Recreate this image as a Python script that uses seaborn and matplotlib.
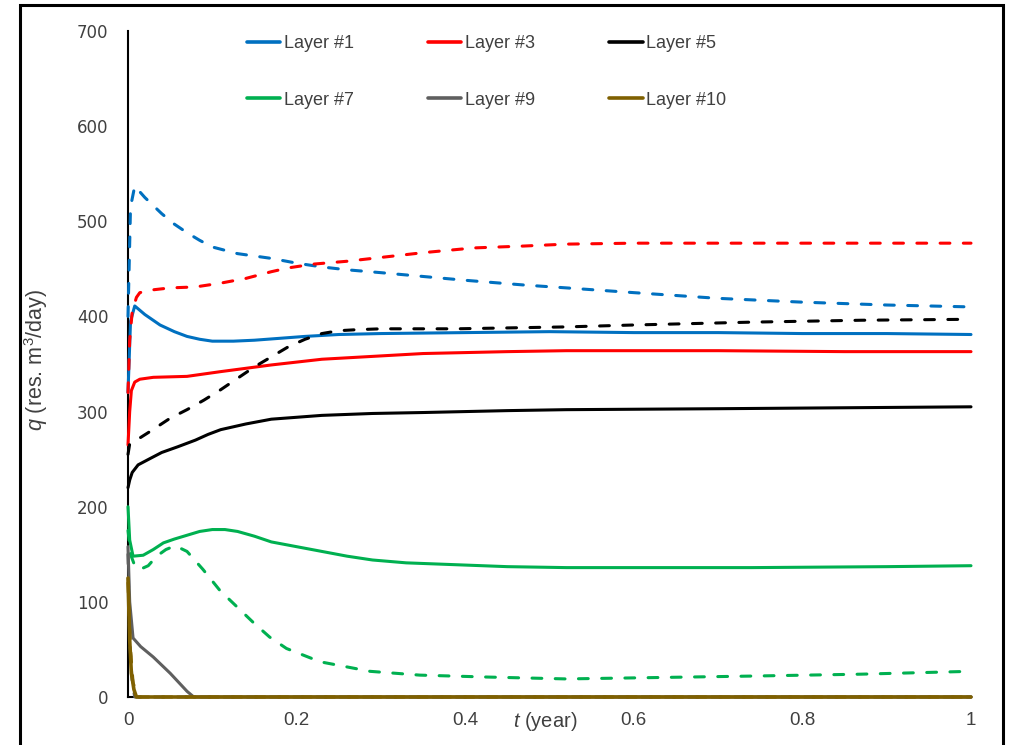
import numpy as np
import pandas as pd
import matplotlib
matplotlib.use("Agg")
import matplotlib.pyplot as plt
from matplotlib import font_manager
from matplotlib.colors import to_hex
from matplotlib.lines import Line2D
from matplotlib.patches import Rectangle
import seaborn as sns

# ---- data: flow rate q (res. m3/day) vs time t (year) per layer ----
# solid = case A, dashed = case B
t1_a = [0, 0.003, 0.008, 0.02, 0.038, 0.055, 0.07, 0.085, 0.1, 0.125, 0.15, 0.18, 0.21, 0.25, 0.3, 0.4, 0.5, 0.6, 0.7, 0.8, 0.9, 1.0]
q1_a = [320, 395, 411, 402, 391, 384, 379, 376, 374, 374, 375, 377, 379, 381, 382, 383, 384, 383, 383, 382, 382, 381]
t1_b = [0, 0.003, 0.008, 0.012, 0.02, 0.04, 0.055, 0.07, 0.085, 0.1, 0.13, 0.17, 0.2, 0.23, 0.26, 0.3, 0.35, 0.4, 0.47, 0.52, 0.6, 0.7, 0.8, 0.9, 1.0]
q1_b = [400, 515, 537, 533, 525, 508, 497, 488, 480, 473, 466, 461, 456, 452, 449, 446, 442, 438, 433, 430, 425, 419, 415, 412, 410]

t3_a = [0, 0.002, 0.004, 0.008, 0.014, 0.03, 0.07, 0.11, 0.17, 0.23, 0.29, 0.35, 0.45, 0.52, 0.7, 0.85, 1.0]
q3_a = [265, 300, 322, 331, 334, 336, 337, 342, 349, 355, 358, 361, 363, 364, 364, 363, 363]
t3_b = [0, 0.002, 0.005, 0.01, 0.014, 0.03, 0.05, 0.08, 0.11, 0.14, 0.17, 0.19, 0.22, 0.26, 0.29, 0.35, 0.41, 0.47, 0.52, 0.6, 0.8, 1.0]
q3_b = [320, 375, 405, 420, 425, 428, 430, 431, 435, 440, 447, 451, 455, 458, 461, 467, 472, 474, 476, 477, 477, 477]

t5_a = [0, 0.002, 0.005, 0.012, 0.027, 0.04, 0.059, 0.08, 0.095, 0.11, 0.125, 0.14, 0.17, 0.2, 0.23, 0.26, 0.29, 0.35, 0.45, 0.52, 0.7, 0.85, 1.0]
q5_a = [220, 228, 236, 244, 251, 257, 263, 270, 276, 281, 284, 287, 292, 294, 296, 297, 298, 299, 301, 302, 303, 304, 305]
t5_b = [0, 0.002, 0.01, 0.026, 0.05, 0.07, 0.09, 0.11, 0.15, 0.19, 0.21, 0.23, 0.25, 0.27, 0.3, 0.39, 0.52, 0.6, 0.74, 0.87, 1.0]
q5_b = [255, 266, 270, 279, 293, 302, 312, 323, 347, 368, 376, 382, 385, 386, 387, 387, 389, 391, 394, 396, 397]

t7_a = [0, 0.002, 0.006, 0.018, 0.03, 0.042, 0.055, 0.07, 0.085, 0.1, 0.115, 0.13, 0.15, 0.17, 0.2, 0.23, 0.26, 0.29, 0.33, 0.39, 0.45, 0.52, 0.74, 0.9, 1.0]
q7_a = [200, 165, 148, 149, 155, 162, 166, 170, 174, 176, 176, 174, 169, 163, 158, 153, 148, 144, 141, 139, 137, 136, 136, 137, 138]
t7_b = [0, 0.003, 0.008, 0.014, 0.024, 0.034, 0.045, 0.056, 0.07, 0.089, 0.109, 0.129, 0.149, 0.168, 0.188, 0.228, 0.287, 0.346, 0.425, 0.52, 0.74, 0.87, 1.0]
q7_b = [175, 150, 138, 134, 138, 148, 155, 159, 153, 134, 112, 95, 78, 63, 51, 37, 27, 23, 21, 19, 22, 24, 27]

t9_a = [0, 0.002, 0.006, 0.015, 0.03, 0.05, 0.07, 0.078, 0.2, 0.5, 1.0]
q9_a = [158, 100, 62, 53, 42, 25, 6, 0, 0, 0, 0]
t9_b = [0, 0.002, 0.005, 0.008, 1.0]
q9_b = [150, 60, 15, 0, 0]

t10_a = [0, 0.002, 0.004, 0.007, 0.01, 1.0]
q10_a = [125, 60, 25, 8, 0, 0]
t10_b = [0, 0.003, 0.006, 0.012, 1.0]
q10_b = [120, 50, 15, 0, 0]

layers = ["Layer #1", "Layer #3", "Layer #5", "Layer #7", "Layer #9", "Layer #10"]
colors = ["#0070C0", "#FF0000", "#000000", "#00B050", "#5F5F5F", "#7F6000"]
x_ticks = [0, 0.2, 0.4, 0.6, 0.8, 1]
x_tick_labels = ["0", "0.2", "0.4", "0.6", "0.8", "1"]
y_ticks = [0, 100, 200, 300, 400, 500, 600, 700]

series = {
    "Layer #1": ((t1_a, q1_a), (t1_b, q1_b)),
    "Layer #3": ((t3_a, q3_a), (t3_b, q3_b)),
    "Layer #5": ((t5_a, q5_a), (t5_b, q5_b)),
    "Layer #7": ((t7_a, q7_a), (t7_b, q7_b)),
    "Layer #9": ((t9_a, q9_a), (t9_b, q9_b)),
    "Layer #10": ((t10_a, q10_a), (t10_b, q10_b)),
}

rows = []
for name in layers:
    for case, (tt, qq) in zip(["A", "B"], series[name]):
        for t, q in zip(tt, qq):
            rows.append({"t": t, "q": q, "layer": name, "case": case})
df = pd.DataFrame(rows)

# ---- style ----
sns.set_style("white")
available = {f.name for f in font_manager.fontManager.ttflist}
narrow = "Liberation Sans Narrow" if "Liberation Sans Narrow" in available else "Liberation Sans"
plt.rcParams["font.family"] = [narrow, "DejaVu Sans"]
plt.rcParams["mathtext.fontset"] = "custom"
plt.rcParams["mathtext.it"] = f"{narrow}:italic"
plt.rcParams["mathtext.rm"] = narrow

fig = plt.figure(figsize=(10.10, 7.45), dpi=100)
ax = fig.add_axes([128 / 1010, 1 - 697 / 745, (971 - 128) / 1010, (697 - 31) / 745])

sns.lineplot(
    data=df, x="t", y="q", hue="layer", style="case",
    hue_order=layers, palette=colors, style_order=["A", "B"],
    dashes={"A": "", "B": (3.2, 4.4)},
    estimator=None, sort=False, linewidth=2.2, legend=False, ax=ax,
    dash_capstyle="round", solid_capstyle="round",
)
for ln in ax.get_lines():
    ln.set_clip_on(False)
    ln.set_zorder(3)
    # the solid Layer #10 curve runs along q = 0 and sits on top of everything
    if to_hex(ln.get_color()).lower() == colors[-1].lower() and ln.get_linestyle() == "-":
        ln.set_zorder(4)
        ln.set_linewidth(2.6)

ax.set_xlim(0, 1)
ax.set_ylim(0, 700)
ax.margins(0)
ax.set_xticks(x_ticks)
ax.set_xticklabels(x_tick_labels)
ax.set_yticks(y_ticks)
for s in ["top", "right"]:
    ax.spines[s].set_visible(False)
for s in ["left", "bottom"]:
    ax.spines[s].set_color("black")
    ax.spines[s].set_linewidth(1.5)
ax.tick_params(axis="both", direction="in", length=4, width=1.3, color="black")
ax.tick_params(axis="x", pad=11, labelsize=13.5)
ax.tick_params(axis="y", pad=14, labelsize=12)
for lab in ax.get_yticklabels():
    lab.set_fontfamily("DejaVu Sans")
    lab.set_color("#404040")
for lab in ax.get_xticklabels():
    lab.set_color("#404040")

ax.set_xlabel("$t$ (year)", fontsize=14.5, color="#404040")
ax.xaxis.set_label_coords((545 - 128) / 843, -0.02)
ax.set_ylabel("$q$ (res. m$^3$/day)", fontsize=15.5, color="#404040")
ax.yaxis.set_label_coords(-0.092, 0.506)

# legend filled column by column: three columns of two rows
order = [0, 3, 1, 4, 2, 5]
handles = [Line2D([0], [0], color=colors[i], lw=2.6) for i in order]
labels = [layers[i] for i in order]
ax.legend(
    handles, labels, loc="upper left", ncol=3,
    bbox_to_anchor=((247 - 128) / 843, 0.994), frameon=False,
    fontsize=13, handlelength=1.85, handletextpad=0.2,
    columnspacing=4.1, labelspacing=2.2, borderpad=0, borderaxespad=0,
    labelcolor="#404040",
)

# outer frame
fig.patches.append(Rectangle((20 / 1010, -0.05), (1003 - 20) / 1010, 1 - 5 / 745 + 0.05,
                             transform=fig.transFigure, fill=False,
                             edgecolor="black", linewidth=2.2))

fig.savefig("out.png", dpi=100)
